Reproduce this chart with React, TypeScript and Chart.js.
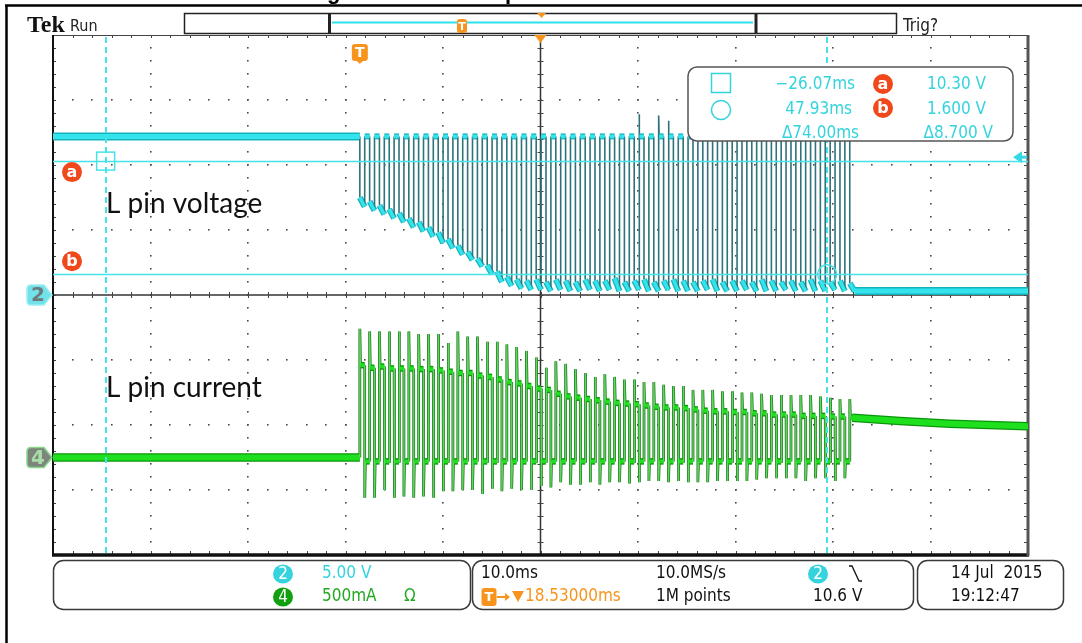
import React, { useEffect, useRef } from "react";
import { Chart, registerables } from "chart.js";

Chart.register(...registerables);

// ---------- scope settings ----------
const timePerDivMs = 10;
const horizontalPositionMs = 18.53;
const ch2VoltsPerDiv = 5;
const ch4AmpsPerDiv = 0.5;
const ch2PositionDiv = 0;
const ch4PositionDiv = -2.5;
const triggerLevelV = 10.6;

// cursors
const cursorTimesMs = [-26.07, 47.93];
const cursorVolts = [10.3, 1.6];

// ---------- L pin voltage (ch2) ----------
const pulsePeriodMs = 1.005;
const pulseOnMs = 0.5;
const vHigh = 12.2;
const vTail = 0.3;
const vLowStart = [
  7.5, 7.2, 6.9, 6.6, 6.3, 5.9, 5.6, 5.2, 4.8, 4.3, 3.8, 3.3, 2.8, 2.3, 1.8, 1.4, 1.2,
  1.1, 1.2, 1.0, 1.2, 1.1, 1.0, 1.2, 1.1, 1.1, 1.3, 1.0, 1.1, 1.2, 1.0, 1.1, 1.2, 1.1,
  1.0, 1.1, 1.2, 1.0, 1.1, 1.1, 1.0, 1.2, 1.1, 1.0, 1.1, 1.0, 1.2, 1.1, 1.0, 1.1, 0.9,
];
const vLowEnd = [
  6.8, 6.5, 6.2, 5.9, 5.6, 5.2, 4.9, 4.5, 4.0, 3.6, 3.1, 2.7, 2.2, 1.6, 1.0, 0.7, 0.5,
  0.4, 0.4, 0.3, 0.4, 0.3, 0.3, 0.4, 0.3, 0.4, 0.3, 0.3, 0.4, 0.3, 0.3, 0.4, 0.3, 0.3,
  0.3, 0.4, 0.3, 0.3, 0.3, 0.4, 0.3, 0.3, 0.3, 0.4, 0.3, 0.3, 0.3, 0.3, 0.4, 0.3, 0.3,
];
const vSpikePulse = [28, 30, 31];
const vSpikeVolts = [13.9, 13.8, 13.4];

// ---------- L pin current (ch4) ----------
const iPre = 0;
const iOff = -0.03;
const iPeak = [
  0.99, 0.97, 0.97, 0.97, 0.97, 0.97, 0.95, 0.95, 0.95, 0.88, 0.97, 0.93, 0.93, 0.89, 0.89,
  0.87, 0.85, 0.82, 0.77, 0.69, 0.74, 0.72, 0.68, 0.65, 0.62, 0.64, 0.62, 0.6, 0.6, 0.58,
  0.58, 0.56, 0.55, 0.55, 0.52, 0.52, 0.52, 0.51, 0.51, 0.5, 0.5, 0.49, 0.48, 0.48, 0.48,
  0.48, 0.48, 0.47, 0.46, 0.45, 0.45,
];
const iOn = [
  0.71, 0.69, 0.7, 0.685, 0.685, 0.685, 0.68, 0.68, 0.67, 0.66, 0.65, 0.65, 0.63, 0.62, 0.6,
  0.58, 0.57, 0.55, 0.53, 0.52, 0.49, 0.47, 0.46, 0.45, 0.44, 0.43, 0.42, 0.415, 0.41, 0.4,
  0.39, 0.385, 0.385, 0.38, 0.37, 0.36, 0.355, 0.355, 0.35, 0.35, 0.34, 0.34, 0.33, 0.33,
  0.33, 0.32, 0.32, 0.32, 0.315, 0.315, 0.31,
];
const iTrough = [
  -0.31, -0.31, -0.25, -0.31, -0.3, -0.31, -0.3, -0.31, -0.26, -0.26, -0.25, -0.25, -0.28,
  -0.24, -0.26, -0.24, -0.25, -0.25, -0.22, -0.23, -0.19, -0.21, -0.21, -0.19, -0.21, -0.19,
  -0.19, -0.2, -0.19, -0.18, -0.18, -0.19, -0.18, -0.19, -0.19, -0.19, -0.18, -0.18, -0.18,
  -0.18, -0.17, -0.16, -0.16, -0.16, -0.16, -0.18, -0.16, -0.16, -0.18, -0.16,
];
const iTailTimesMs = [50.5, 55.4, 60.5, 68.53];
const iTailAmps = [0.305, 0.28, 0.26, 0.24];

// ---------- readouts ----------
const ch2Label = "5.00 V";
const ch4Label = "500mA";
const timebaseLabel = "10.0ms";
const sampleRateLabel = "10.0MS/s";
const recordLabel = "1M points";
const dateLabel = "14 Jul  2015";
const timeLabel = "19:12:47";

const xMin = horizontalPositionMs - 5 * timePerDivMs;
const xMax = horizontalPositionMs + 5 * timePerDivMs;
const vDiv = (v: number) => v / ch2VoltsPerDiv + ch2PositionDiv;
const iDiv = (a: number) => a / ch4AmpsPerDiv + ch4PositionDiv;

function buildVoltage() {
  const pts: { x: number; y: number }[] = [{ x: xMin, y: vDiv(vHigh) }];
  const n = vLowStart.length;
  for (let k = 0; k < n; k++) {
    const t0 = k * pulsePeriodMs;
    const t1 = t0 + pulseOnMs;
    pts.push({ x: t0, y: vDiv(vHigh) }, { x: t0, y: vDiv(vLowStart[k]) }, { x: t1, y: vDiv(vLowEnd[k]) });
    if (k < n - 1) {
      const s = vSpikePulse.indexOf(k);
      if (s >= 0) {
        pts.push({ x: t1, y: vDiv(vSpikeVolts[s]) }, { x: t1 + 0.05, y: vDiv(vHigh) });
      } else {
        pts.push({ x: t1, y: vDiv(vHigh) });
      }
    } else {
      pts.push({ x: xMax, y: vDiv(vTail) });
    }
  }
  return pts;
}

function buildCurrent() {
  const pts: { x: number; y: number }[] = [{ x: xMin, y: iDiv(iPre) }];
  const n = iOn.length;
  for (let k = 0; k < n; k++) {
    const t0 = k * pulsePeriodMs;
    const t1 = t0 + pulseOnMs;
    pts.push(
      { x: t0, y: iDiv(k === 0 ? iPre : iOff) },
      { x: t0, y: iDiv(iPeak[k]) },
      { x: t0 + 0.07, y: iDiv(iOn[k]) }
    );
    if (k < n - 1) {
      pts.push({ x: t1, y: iDiv(iOn[k]) }, { x: t1, y: iDiv(iTrough[k]) }, { x: t1 + 0.07, y: iDiv(iOff) });
    } else {
      for (let m = 0; m < iTailTimesMs.length; m++) pts.push({ x: iTailTimesMs[m], y: iDiv(iTailAmps[m]) });
    }
  }
  return pts;
}

const SCOPE = '"DejaVu Sans Condensed", "Liberation Sans Narrow", "DejaVu Sans", sans-serif';
const CYAN = "#34d3dd";
const ORANGE = "#f7941d";
const RED = "#f0481a";
const GREEN = "#22a822";

const isVert = (c: any) => Math.abs(c.p1.x - c.p0.x) < 1.3;
const isLong = (c: any) => Math.abs(c.p1.x - c.p0.x) > 40;

function line(ctx: CanvasRenderingContext2D, x1: number, y1: number, x2: number, y2: number) {
  ctx.beginPath();
  ctx.moveTo(x1, y1);
  ctx.lineTo(x2, y2);
  ctx.stroke();
}

function drawGrid(chart: any) {
  const ctx: CanvasRenderingContext2D = chart.ctx;
  const { left, right, top, bottom } = chart.chartArea;
  const dx = (right - left) / 10;
  const dy = (bottom - top) / 8;
  ctx.save();
  ctx.fillStyle = "#4a4a4a";
  for (let i = 1; i < 10; i++) {
    if (i === 5) continue;
    const x = Math.round(left + i * dx);
    for (let j = 1; j < 40; j++) {
      const y = Math.round(top + (j * dy) / 5);
      ctx.fillRect(x - 1, y - 1, 1.6, 1.6);
    }
  }
  for (let j = 1; j < 8; j++) {
    if (j === 4) continue;
    const y = Math.round(top + j * dy);
    for (let i = 1; i < 50; i++) {
      const x = Math.round(left + (i * dx) / 5);
      ctx.fillRect(x - 1, y - 1, 1.6, 1.6);
    }
  }
  const cx = left + 5 * dx;
  const cy = top + 4 * dy;
  ctx.strokeStyle = "#333";
  ctx.lineWidth = 1.5;
  line(ctx, left, cy, right, cy);
  line(ctx, cx, top, cx, bottom);
  ctx.lineWidth = 1;
  ctx.strokeStyle = "#444";
  for (let i = 1; i < 50; i++) {
    const x = Math.round(left + (i * dx) / 5) + 0.5;
    line(ctx, x, cy - 3, x, cy + 3);
    line(ctx, x, top, x, top + 3);
    line(ctx, x, bottom - 4, x, bottom);
  }
  for (let j = 1; j < 40; j++) {
    const y = Math.round(top + (j * dy) / 5) + 0.5;
    line(ctx, cx - 3, y, cx + 3, y);
    line(ctx, left, y, left + 3, y);
    line(ctx, right - 4, y, right, y);
  }
  // frame
  ctx.strokeStyle = "#444";
  ctx.lineWidth = 1;
  line(ctx, left, top + 0.5, right, top + 0.5);
  ctx.strokeStyle = "#111";
  ctx.lineWidth = 2;
  line(ctx, left, top, left, bottom);
  ctx.lineWidth = 3.5;
  line(ctx, left - 1, bottom, right + 1, bottom);
  ctx.strokeStyle = "#555";
  ctx.lineWidth = 3;
  line(ctx, right, top, right, bottom + 1);
  ctx.restore();
}

function badge(ctx: CanvasRenderingContext2D, x: number, y: number, r: number, fill: string, txt: string, fs = 15) {
  ctx.beginPath();
  ctx.arc(x, y, r, 0, Math.PI * 2);
  ctx.fillStyle = fill;
  ctx.fill();
  ctx.fillStyle = "#fff";
  ctx.font = `bold ${fs}px "DejaVu Sans", sans-serif`;
  ctx.textAlign = "center";
  ctx.textBaseline = "middle";
  ctx.fillText(txt, x, y + 1);
}

function ellBadge(ctx: CanvasRenderingContext2D, x: number, y: number, fill: string, txt: string) {
  ctx.beginPath();
  ctx.ellipse(x, y, 10, 9.5, 0, 0, Math.PI * 2);
  ctx.fillStyle = fill;
  ctx.fill();
  ctx.fillStyle = "#fff";
  ctx.font = `17px ${SCOPE}`;
  ctx.textAlign = "center";
  ctx.textBaseline = "middle";
  ctx.fillText(txt, x, y + 1);
}

function tMarker(ctx: CanvasRenderingContext2D, x: number, y: number, w: number, h: number, fs: number, point: boolean) {
  ctx.fillStyle = ORANGE;
  ctx.beginPath();
  ctx.roundRect(x - w / 2, y, w, h, 3);
  ctx.fill();
  if (point) {
    ctx.beginPath();
    ctx.moveTo(x - 4, y + h - 1);
    ctx.lineTo(x + 4, y + h - 1);
    ctx.lineTo(x, y + h + 3);
    ctx.closePath();
    ctx.fill();
  }
  ctx.fillStyle = "#fff";
  ctx.font = `bold ${fs}px "DejaVu Sans", sans-serif`;
  ctx.textAlign = "center";
  ctx.textBaseline = "middle";
  ctx.fillText("T", x, y + h / 2 + 1);
}

function drawOverlay(chart: any) {
  const ctx: CanvasRenderingContext2D = chart.ctx;
  const xs = chart.scales.x;
  const ys = chart.scales.y;
  const { left, right, top, bottom } = chart.chartArea;
  ctx.save();

  // cursors
  ctx.strokeStyle = "#45e2ea";
  ctx.lineWidth = 1.5;
  for (const v of cursorVolts) {
    const y = Math.round(ys.getPixelForValue(vDiv(v))) + 0.5;
    line(ctx, left, y, right, y);
  }
  ctx.lineWidth = 2;
  ctx.setLineDash([6, 4]);
  for (const t of cursorTimesMs) {
    const x = Math.round(xs.getPixelForValue(t));
    line(ctx, x, top + 2, x, bottom - 2);
  }
  ctx.setLineDash([]);
  const ax = xs.getPixelForValue(cursorTimesMs[0]);
  const ay = ys.getPixelForValue(vDiv(cursorVolts[0]));
  const bx = xs.getPixelForValue(cursorTimesMs[1]);
  const by = ys.getPixelForValue(vDiv(cursorVolts[1]));
  ctx.strokeStyle = "#45e2ea";
  ctx.lineWidth = 1.5;
  ctx.strokeRect(ax - 9, ay - 9, 18, 18);
  ctx.beginPath();
  ctx.arc(bx, by, 9.5, 0, Math.PI * 2);
  ctx.stroke();

  // trigger level arrow
  const ty = ys.getPixelForValue(vDiv(triggerLevelV));
  ctx.fillStyle = "#34dbe4";
  ctx.beginPath();
  ctx.moveTo(right - 15, ty);
  ctx.lineTo(right - 6, ty - 6);
  ctx.lineTo(right - 6, ty + 6);
  ctx.closePath();
  ctx.fill();
  ctx.fillRect(right - 7, ty - 1.5, 6, 3);

  // trigger position marker
  const tx = xs.getPixelForValue(0);
  tMarker(ctx, tx, top + 9, 16, 17, 14, true);
  // center marker
  const cx = (left + right) / 2;
  ctx.fillStyle = ORANGE;
  ctx.beginPath();
  ctx.moveTo(cx - 6, top);
  ctx.lineTo(cx + 6, top);
  ctx.lineTo(cx, top + 8);
  ctx.closePath();
  ctx.fill();

  // a / b markers
  badge(ctx, 72, ay + 11, 10, RED, "a", 16);
  badge(ctx, 72, by - 13, 10, RED, "b", 16);

  // labels
  ctx.fillStyle = "#111";
  ctx.font = '28px Lato, "Open Sans", sans-serif';
  ctx.textAlign = "left";
  ctx.textBaseline = "alphabetic";
  ctx.fillText("L pin voltage", 106, 213);
  ctx.fillText("L pin current", 106, 397);

  // readout box
  ctx.beginPath();
  ctx.roundRect(688, 67, 325, 74, 9);
  ctx.fillStyle = "#fff";
  ctx.fill();
  ctx.strokeStyle = "#555";
  ctx.lineWidth = 1.5;
  ctx.stroke();
  ctx.strokeStyle = CYAN;
  ctx.lineWidth = 1.5;
  ctx.strokeRect(711.5, 73.5, 19, 19);
  ctx.beginPath();
  ctx.arc(721, 110, 9.5, 0, Math.PI * 2);
  ctx.stroke();
  const fmtMs = (t: number) => (t < 0 ? "\u2212" : "") + Math.abs(t).toFixed(2) + "ms";
  ctx.fillStyle = CYAN;
  ctx.font = `17px ${SCOPE}`;
  ctx.textAlign = "right";
  ctx.textBaseline = "middle";
  ctx.fillText(fmtMs(cursorTimesMs[0]), 855, 85);
  ctx.fillText(fmtMs(cursorTimesMs[1]), 852, 110);
  ctx.fillText("\u0394" + (cursorTimesMs[1] - cursorTimesMs[0]).toFixed(2) + "ms", 859, 134);
  ctx.fillText(cursorVolts[0].toFixed(2) + " V", 986, 85);
  ctx.fillText(cursorVolts[1].toFixed(3) + " V", 986, 110);
  ctx.fillText("\u0394" + (cursorVolts[0] - cursorVolts[1]).toFixed(3) + " V", 993, 134);
  badge(ctx, 883, 84, 10, RED, "a", 16);
  badge(ctx, 883, 108, 10, RED, "b", 16);

  // channel ground markers
  const g2 = ys.getPixelForValue(ch2PositionDiv);
  const g4 = ys.getPixelForValue(ch4PositionDiv);
  const pent = (y: number, fill: string, stroke: string, txt: string, tc: string) => {
    ctx.beginPath();
    ctx.moveTo(31, y - 10);
    ctx.lineTo(44, y - 10);
    ctx.lineTo(52, y);
    ctx.lineTo(44, y + 10);
    ctx.lineTo(31, y + 10);
    ctx.quadraticCurveTo(27, y + 10, 27, y + 6);
    ctx.lineTo(27, y - 6);
    ctx.quadraticCurveTo(27, y - 10, 31, y - 10);
    ctx.closePath();
    ctx.fillStyle = fill;
    ctx.fill();
    ctx.strokeStyle = stroke;
    ctx.lineWidth = 1.5;
    ctx.stroke();
    ctx.fillStyle = tc;
    ctx.font = `bold 20px "DejaVu Sans", sans-serif`;
    ctx.textAlign = "center";
    ctx.textBaseline = "middle";
    ctx.fillText(txt, 38, y + 1);
  };
  pent(g2, "#72e2ea", "#9eeef2", "2", "#6d7b7d");
  pent(g4, "#7d857d", "#86d886", "4", "#a8dca8");

  // ---------- outside the graticule ----------
  ctx.strokeStyle = "#000";
  ctx.lineWidth = 2.5;
  line(ctx, 5, 5.5, 1082, 5.5);
  line(ctx, 6.5, 5, 6.5, 643);
  ctx.save();
  ctx.beginPath();
  ctx.rect(0, 0, 1082, 4.5);
  ctx.clip();
  ctx.fillStyle = "#000";
  ctx.font = 'bold 22px "Liberation Sans", sans-serif';
  ctx.textAlign = "left";
  ctx.textBaseline = "alphabetic";
  ctx.fillText("g", 327, -1);
  ctx.fillText("p", 505, -1);
  ctx.restore();

  ctx.fillStyle = "#111";
  ctx.font = 'bold 24px "Liberation Serif", serif';
  ctx.textAlign = "left";
  ctx.textBaseline = "alphabetic";
  ctx.fillText("Tek", 27, 32);
  ctx.font = `16px ${SCOPE}`;
  ctx.fillStyle = "#222";
  ctx.fillText("Run", 70, 31);
  ctx.font = `17px ${SCOPE}`;
  ctx.fillText("Trig?", 903, 31);

  // record bar
  ctx.strokeStyle = "#222";
  ctx.lineWidth = 1.5;
  ctx.strokeRect(184.5, 13.5, 712, 20);
  ctx.lineWidth = 3;
  line(ctx, 329.5, 13, 329.5, 34);
  line(ctx, 756, 13, 756, 34);
  ctx.strokeStyle = "#2ee0e8";
  ctx.lineWidth = 2;
  line(ctx, 332, 22.5, 753, 22.5);
  tMarker(ctx, 462, 19, 10, 14, 11, false);
  ctx.fillStyle = ORANGE;
  ctx.beginPath();
  ctx.moveTo(537, 13);
  ctx.lineTo(546, 13);
  ctx.lineTo(541.5, 18);
  ctx.closePath();
  ctx.fill();

  // bottom boxes
  ctx.strokeStyle = "#3a3a3a";
  ctx.lineWidth = 1.5;
  const boxes = [
    [53, 560, 417, 49],
    [472, 560, 441, 49],
    [917, 560, 146, 49],
  ];
  for (const b of boxes) {
    ctx.beginPath();
    ctx.roundRect(b[0] + 0.5, b[1] + 0.5, b[2], b[3], 10);
    ctx.stroke();
  }
  const r1 = 574;
  const r2 = 597;
  ellBadge(ctx, 283, r1, "#35d3dd", "2");
  ellBadge(ctx, 283, r2, "#10a010", "4");
  ctx.textAlign = "left";
  ctx.textBaseline = "middle";
  ctx.font = `17px ${SCOPE}`;
  ctx.fillStyle = CYAN;
  ctx.fillText(ch2Label, 322, r1);
  ctx.fillStyle = GREEN;
  ctx.fillText(ch4Label, 322, r2);
  ctx.fillText("\u03A9", 404, r2);

  ctx.fillStyle = "#111";
  ctx.fillText(timebaseLabel, 481, r1);
  ctx.fillText(sampleRateLabel, 656, r1);
  ctx.fillText(recordLabel, 656, r2);
  ctx.fillText(triggerLevelV.toFixed(1) + " V", 813, r2);
  ellBadge(ctx, 818, r1, "#35d3dd", "2");
  ctx.strokeStyle = "#111";
  ctx.lineWidth = 1.3;
  ctx.beginPath();
  ctx.moveTo(849, 566);
  ctx.lineTo(852, 566);
  ctx.lineTo(859, 581);
  ctx.lineTo(862, 581);
  ctx.stroke();

  tMarker(ctx, 489, r2 - 9, 15, 18, 13, false);
  ctx.strokeStyle = ORANGE;
  ctx.lineWidth = 2;
  line(ctx, 497, r2, 507, r2);
  ctx.fillStyle = ORANGE;
  ctx.beginPath();
  ctx.moveTo(505, r2 - 4);
  ctx.lineTo(510, r2);
  ctx.lineTo(505, r2 + 4);
  ctx.closePath();
  ctx.fill();
  ctx.beginPath();
  ctx.moveTo(512, r2 - 6);
  ctx.lineTo(524, r2 - 6);
  ctx.lineTo(518, r2 + 5);
  ctx.closePath();
  ctx.fill();
  ctx.font = `17px ${SCOPE}`;
  ctx.textAlign = "left";
  ctx.fillText(horizontalPositionMs.toFixed(5) + "ms", 525, r2);

  ctx.fillStyle = "#111";
  ctx.fillText(dateLabel, 951, r1);
  ctx.fillText(timeLabel, 951, r2);

  ctx.restore();
}

const scopePlugin = {
  id: "scope",
  beforeDraw(chart: any) {
    const ctx = chart.ctx;
    ctx.save();
    ctx.fillStyle = "#fff";
    ctx.fillRect(0, 0, chart.width, chart.height);
    ctx.restore();
  },
  beforeDatasetsDraw(chart: any) {
    drawGrid(chart);
  },
  afterDatasetsDraw(chart: any) {
    drawOverlay(chart);
  },
};

export default function App() {
  const ref = useRef<HTMLCanvasElement | null>(null);
  useEffect(() => {
    const vPts = buildVoltage();
    const iPts = buildCurrent();
    const chart = new Chart(ref.current as HTMLCanvasElement, {
      type: "line",
      data: {
        datasets: [
          {
            label: "L pin voltage core",
            data: vPts,
            order: 1,
            pointRadius: 0,
            tension: 0,
            borderWidth: 4,
            borderColor: "#34e4ec",
            segment: {
              borderColor: (c: any) => (isVert(c) ? "rgba(0,0,0,0)" : "#34e4ec"),
              borderWidth: (c: any) => (isVert(c) ? 0.1 : isLong(c) ? 5 : 3.5),
            },
          },
          {
            label: "L pin voltage outline",
            data: vPts,
            order: 2,
            pointRadius: 0,
            tension: 0,
            borderWidth: 6,
            borderColor: "#16b3bd",
            segment: {
              borderColor: (c: any) => (isVert(c) ? "#2e7379" : "#16b3bd"),
              borderWidth: (c: any) => (isVert(c) ? 1.6 : isLong(c) ? 8 : 6),
            },
          },
          {
            label: "L pin current core",
            data: iPts,
            order: 1,
            pointRadius: 0,
            tension: 0,
            borderWidth: 4,
            borderColor: "#1ee01e",
            segment: {
              borderColor: (c: any) => (isVert(c) ? "#5cd85c" : "#1ee01e"),
              borderWidth: (c: any) => (isVert(c) ? 1.3 : isLong(c) ? 6 : 3.8),
            },
          },
          {
            label: "L pin current outline",
            data: iPts,
            order: 2,
            pointRadius: 0,
            tension: 0,
            borderWidth: 6,
            borderColor: "#0a960a",
            segment: {
              borderColor: (c: any) => (isVert(c) ? "#247a24" : "#0a960a"),
              borderWidth: (c: any) => (isVert(c) ? 2.8 : isLong(c) ? 8.5 : 6.5),
            },
          },
        ],
      },
      options: {
        animation: false,
        responsive: true,
        maintainAspectRatio: false,
        events: [],
        layout: { padding: { left: 53, right: 54, top: 35, bottom: 88 } },
        scales: {
          x: { type: "linear", min: xMin, max: xMax, display: false },
          y: { type: "linear", min: -4, max: 4, display: false },
        },
        plugins: { legend: { display: false }, tooltip: { enabled: false } },
      },
      plugins: [scopePlugin],
    } as any);
    return () => chart.destroy();
  }, []);
  return (
    <div style={{ position: "fixed", left: 0, top: 0, width: 1082, height: 643, background: "#fff" }}>
      <canvas ref={ref} />
    </div>
  );
}
